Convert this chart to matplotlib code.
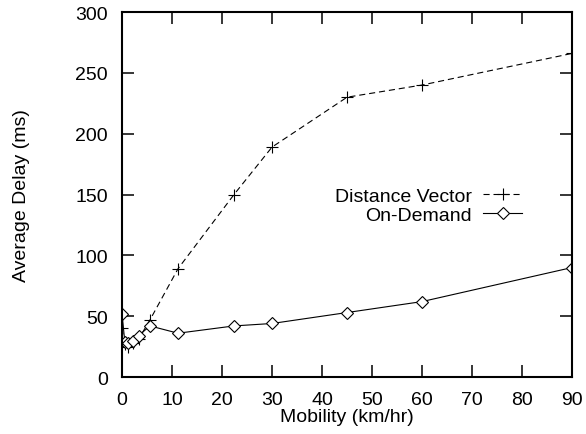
import matplotlib
matplotlib.use("Agg")
import matplotlib.pyplot as plt

plt.rcParams['font.family'] = ['Liberation Sans', 'DejaVu Sans']

# mobility values (km/hr)
dv_x = [0, 0.56, 1.1, 2.2, 3.3, 5.6, 11.2, 22.4, 30, 45, 60, 90]
dv_y = [40, 27, 25, 28, 31, 47, 89, 150, 189, 230, 240, 266]

od_x = [0, 0.56, 1.1, 2.2, 3.3, 5.6, 11.2, 22.4, 30, 45, 60, 90]
od_y = [52, 29, 28, 30, 34, 42, 36, 42, 44, 53, 62, 90]

fig = plt.figure(figsize=(5.86, 4.35), dpi=100)
ax = fig.add_axes([0.2082, 0.131, 0.768, 0.839])

ax.plot(dv_x, dv_y, color='black', linestyle=(0, (5.5, 3.5)), linewidth=0.8,
        marker='+', markersize=8, markeredgewidth=0.8, label='Distance Vector')
ax.plot(od_x, od_y, color='black', linestyle='-', linewidth=0.8,
        marker='D', markersize=6, markerfacecolor='white', markeredgewidth=0.8,
        label='On-Demand')

ax.set_xlim(0, 90)
ax.set_ylim(0, 300)
ax.set_xticks(range(0, 91, 10))
ax.set_yticks(range(0, 301, 50))
ax.tick_params(direction='in', length=8.5, width=1.1, top=True, right=True,
               labelsize=14)
ax.tick_params(axis='x', pad=10)
ax.tick_params(axis='y', pad=10)
for s in ax.spines.values():
    s.set_linewidth(1.5)

ax.set_xlabel('Mobility (km/hr)', fontsize=14, labelpad=0)
ax.set_ylabel('Average Delay (ms)', fontsize=14)
ax.yaxis.set_label_coords(-0.205, 0.5)

leg = ax.legend(loc='center right', bbox_to_anchor=(0.889, 0.470), markerfirst=False,
                frameon=False, fontsize=14, handlelength=2.0, handletextpad=0.57,
                labelspacing=0.1, borderaxespad=0, borderpad=0)
for t in leg.get_texts():
    t.set_ha('right')

fig.savefig('out.png', dpi=100)
